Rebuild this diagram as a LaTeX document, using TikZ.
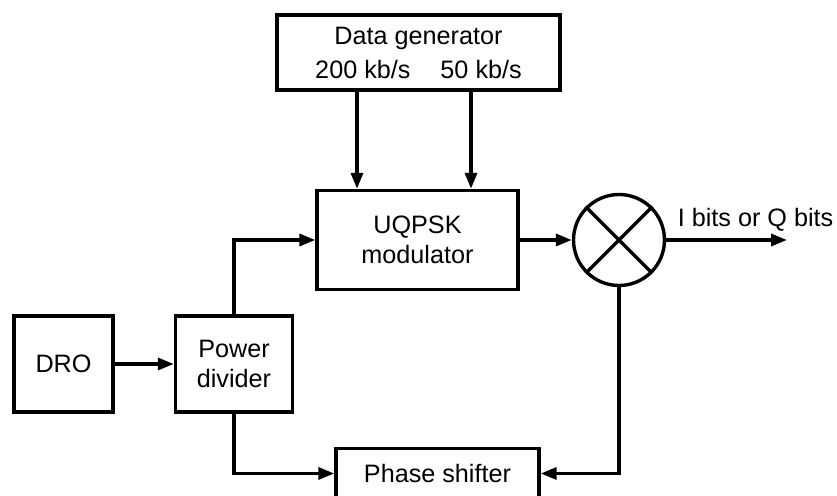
\documentclass[tikz,border=0pt]{standalone}
\usepackage{fontspec}
\setmainfont{Liberation Sans}
\usetikzlibrary{arrows.meta, positioning, calc}

\begin{document}
\begin{tikzpicture}[
    x=0.5pt, y=-0.5pt,
    blk/.style={rectangle, draw=black, line width=1.7pt, fill=white, font=\fontsize{12.6}{15}\selectfont, align=center, inner sep=2pt},
    mixer/.style={circle, draw=black, line width=1.7pt, minimum size=45.5pt, inner sep=0pt},
    arr/.style={-{Triangle[length=8pt,width=6pt]}, line width=1.7pt},
]
\useasboundingbox (0,0) rectangle (837,496);

\node[blk, minimum width=141.5pt, minimum height=37.5pt, font=\fontsize{12.6}{17}\selectfont] (gen) at (418.5,52.5) {Data generator\\200 kb/s\hspace{15pt}50 kb/s};

\node[blk, minimum width=100.5pt, minimum height=49.5pt] (mod) at (417.5,240) {UQPSK\\modulator};

\node[mixer] (mix) at (619,240) {};
\draw[line width=1.7pt] (mix.45) -- (mix.225);
\draw[line width=1.7pt] (mix.135) -- (mix.315);

\node[blk, minimum width=49.5pt, minimum height=48pt] (dro) at (63.5,364) {DRO};

\node[blk, minimum width=58.5pt, minimum height=48pt] (pdiv) at (234,364) {Power\\divider};

\node[blk, minimum width=101.5pt, minimum height=25pt] (shift) at (437.5,473.5) {Phase shifter};

\coordinate (out) at (787,240);

% data streams
\draw[arr] ([xshift=-30.75pt]gen.south) -- ([xshift=-30.75pt]gen.south |- mod.north);
\draw[arr] ([xshift=26.25pt]gen.south) -- ([xshift=26.25pt]gen.south |- mod.north);

% carrier path
\draw[arr] (dro) -- (pdiv);
\draw[arr] (pdiv.north) |- (mod.west);
\draw[arr] (mod) -- (mix);
\draw[arr] (mix.east) -- node[above, pos=0.74, font=\fontsize{12.6}{15}\selectfont] {I bits or Q bits} (out);

% loop via phase shifter
\draw[arr] (pdiv.south) |- (shift.west);
\draw[arr] (mix.south) |- (shift.east);

\end{tikzpicture}
\end{document}
